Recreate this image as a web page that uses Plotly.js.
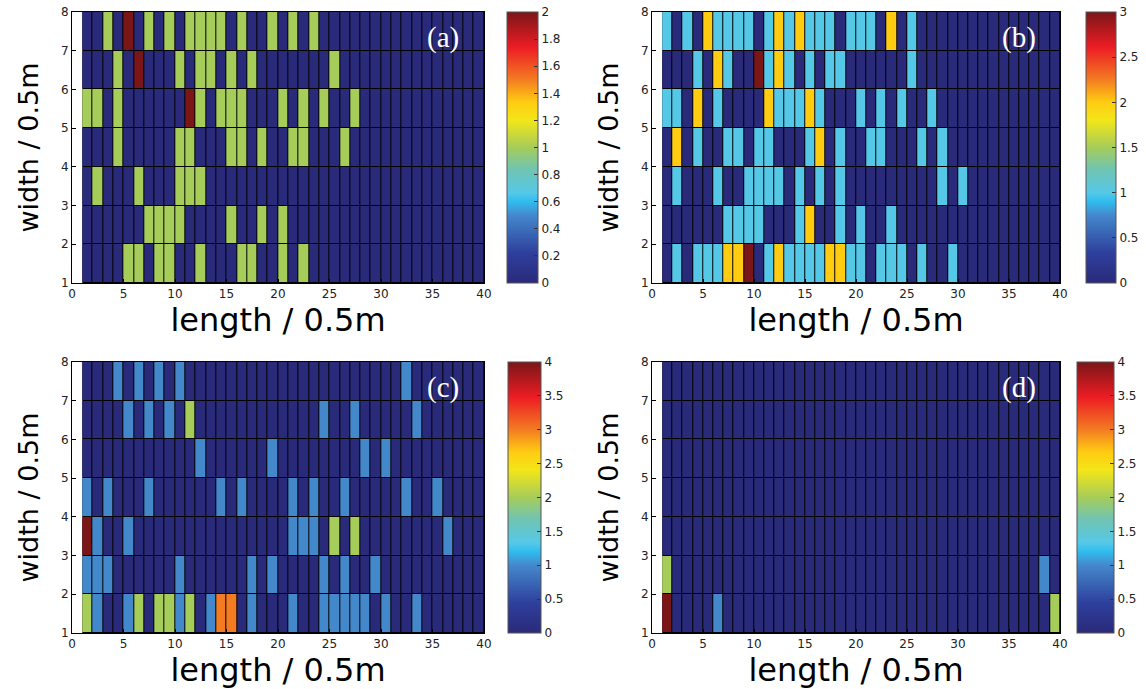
<!DOCTYPE html>
<html>
<head>
<meta charset="utf-8">
<script src="https://cdn.plot.ly/plotly-3.0.1.min.js"></script>
<style>
  html, body { margin: 0; padding: 0; background: #ffffff; }
  #chart { width: 1146px; height: 689px; }
</style>
</head>
<body>
<div id="chart"></div>
<script>
// Cell edges (pcolor grid): length 1..40, width 1..8
const lengthEdges = [1,2,3,4,5,6,7,8,9,10,11,12,13,14,15,16,17,18,19,20,21,22,23,24,25,26,27,28,29,30,31,32,33,34,35,36,37,38,39,40];
const widthEdges = [1,2,3,4,5,6,7,8];

// Panel (a): rows from width 1 (bottom) to width 7 (top), 39 cells each
const panelA = [
  [0,0,0,0,1,1,0,1,1,0, 0,1,0,0,0,1,1,0,0,1, 0,1,0,0,0,0,0,0,0,0, 0,0,0,0,0,0,0,0,0],
  [0,0,0,0,0,0,1,1,1,1, 0,0,0,0,1,0,0,1,0,1, 0,0,0,0,0,0,0,0,0,0, 0,0,0,0,0,0,0,0,0],
  [0,1,0,0,0,1,0,0,0,1, 1,1,0,0,0,0,0,0,0,0, 0,0,0,0,0,0,0,0,0,0, 0,0,0,0,0,0,0,0,0],
  [0,0,0,1,0,0,0,0,0,1, 1,0,0,0,1,1,0,1,0,0, 1,1,0,0,0,1,0,0,0,0, 0,0,0,0,0,0,0,0,0],
  [1,1,0,1,0,0,0,0,0,0, 2,1,0,1,1,1,0,0,0,1, 0,1,0,1,0,0,1,0,0,0, 0,0,0,0,0,0,0,0,0],
  [0,0,0,1,0,2,0,0,0,1, 0,1,1,0,1,0,1,0,0,0, 0,0,0,0,1,0,0,0,0,0, 0,0,0,0,0,0,0,0,0],
  [0,0,1,0,2,0,1,0,1,0, 1,1,1,1,0,1,0,0,1,0, 1,0,1,0,0,0,0,0,0,0, 0,0,0,0,0,0,0,0,0]
];

// Panel (b)
const panelB = [
  [0,1,0,1,1,1,2,2,3,0, 1,2,1,1,1,1,2,2,1,1, 0,1,1,1,0,1,0,0,1,0, 0,0,0,0,0,0,0,0,0],
  [0,0,0,0,0,0,1,1,1,1, 0,0,0,1,2,0,0,1,0,1, 0,0,1,0,0,0,0,0,0,0, 0,0,0,0,0,0,0,0,0],
  [0,1,0,0,0,1,0,0,1,1, 1,1,0,1,0,1,0,1,0,0, 0,0,0,0,0,0,0,1,0,1, 0,0,0,0,0,0,0,0,0],
  [0,2,0,1,0,0,1,1,0,1, 1,0,0,0,1,2,0,1,0,0, 1,1,0,0,0,1,0,1,0,0, 0,0,0,0,0,0,0,0,0],
  [1,1,0,2,0,1,0,0,0,0, 2,1,1,1,2,1,0,0,0,1, 0,1,0,1,0,0,1,0,0,0, 0,0,0,0,0,0,0,0,0],
  [0,0,0,1,0,2,1,0,0,3, 1,2,1,0,1,0,1,1,0,0, 0,0,0,0,1,0,0,0,0,0, 0,0,0,0,0,0,0,0,0],
  [1,0,1,0,2,1,1,1,1,0, 1,2,1,2,1,1,1,0,1,1, 1,0,2,0,1,0,0,0,0,0, 0,0,0,0,0,0,0,0,0]
];

// Panel (c)
const panelC = [
  [2,1,0,0,1,2,0,2,2,1, 2,0,1,3,3,0,1,0,0,0, 1,0,0,1,1,1,1,1,0,1, 0,0,1,0,0,0,0,0,0],
  [1,1,1,0,0,0,0,0,0,1, 0,0,0,0,0,0,1,0,1,0, 0,0,0,1,0,1,0,0,1,0, 0,0,0,0,0,0,0,0,0],
  [4,1,0,0,1,0,0,0,0,0, 0,0,0,0,0,0,0,0,0,0, 1,1,1,0,2,0,2,0,0,0, 0,0,0,0,0,1,0,0,0],
  [1,0,1,0,0,0,1,0,0,0, 0,0,0,1,0,1,0,0,0,0, 1,0,1,0,0,1,0,0,0,0, 0,1,0,0,1,0,0,0,0],
  [0,0,0,0,0,0,0,0,0,0, 0,1,0,0,0,0,0,0,1,0, 0,0,0,0,0,0,0,1,0,1, 0,0,0,0,0,0,0,0,0],
  [0,0,0,0,1,0,1,0,1,0, 2,0,0,0,0,0,0,0,0,0, 0,0,0,1,0,0,1,0,0,0, 0,0,1,0,0,0,0,0,0],
  [0,0,0,1,0,1,0,1,0,1, 0,0,0,0,0,0,0,0,0,0, 0,0,0,0,0,0,0,0,0,0, 0,1,0,0,0,0,0,0,0]
];

// Panel (d)
const panelD = [
  [4,0,0,0,0,1,0,0,0,0, 0,0,0,0,0,0,0,0,0,0, 0,0,0,0,0,0,0,0,0,0, 0,0,0,0,0,0,0,0,2],
  [2,0,0,0,0,0,0,0,0,0, 0,0,0,0,0,0,0,0,0,0, 0,0,0,0,0,0,0,0,0,0, 0,0,0,0,0,0,0,1,0],
  [0,0,0,0,0,0,0,0,0,0, 0,0,0,0,0,0,0,0,0,0, 0,0,0,0,0,0,0,0,0,0, 0,0,0,0,0,0,0,0,0],
  [0,0,0,0,0,0,0,0,0,0, 0,0,0,0,0,0,0,0,0,0, 0,0,0,0,0,0,0,0,0,0, 0,0,0,0,0,0,0,0,0],
  [0,0,0,0,0,0,0,0,0,0, 0,0,0,0,0,0,0,0,0,0, 0,0,0,0,0,0,0,0,0,0, 0,0,0,0,0,0,0,0,0],
  [0,0,0,0,0,0,0,0,0,0, 0,0,0,0,0,0,0,0,0,0, 0,0,0,0,0,0,0,0,0,0, 0,0,0,0,0,0,0,0,0],
  [0,0,0,0,0,0,0,0,0,0, 0,0,0,0,0,0,0,0,0,0, 0,0,0,0,0,0,0,0,0,0, 0,0,0,0,0,0,0,0,0]
];

const panelLabels = ['(a)', '(b)', '(c)', '(d)'];
const colorMax = [2, 3, 4, 4];
const colorStep = [0.2, 0.5, 0.5, 0.5];
const xTickVals = [0, 5, 10, 15, 20, 25, 30, 35, 40];
const yTickVals = [1, 2, 3, 4, 5, 6, 7, 8];
const xTitle = 'length / 0.5m';
const yTitle = 'width / 0.5m';

const jetLike = [
  [0.000, '#2a2a7a'],
  [0.110, '#2e3f9c'],
  [0.250, '#4488cc'],
  [0.300, '#30bcee'],
  [0.3333, '#55c8e8'],
  [0.420, '#70c4b2'],
  [0.500, '#a6cc5a'],
  [0.600, '#f2e619'],
  [0.6667, '#ffcc12'],
  [0.750, '#f37c22'],
  [0.870, '#ec1c24'],
  [1.000, '#7a1618']
];

const W = 1146, H = 689;
const px = v => v / W;
const py = v => 1 - v / H;

// Panel geometry (pixels)
const boxes = [
  {x0: 72,  x1: 484,  y0: 12,  y1: 283, cbx: 507,  cbw: 31},
  {x0: 652, x1: 1060, y0: 12,  y1: 283, cbx: 1086, cbw: 30},
  {x0: 72,  x1: 484,  y0: 362, y1: 633, cbx: 508,  cbw: 33},
  {x0: 652, x1: 1060, y0: 362, y1: 633, cbx: 1077, cbw: 37}
];
const panels = [panelA, panelB, panelC, panelD];

const tickFont = {family: 'DejaVu Sans, Liberation Sans, sans-serif', size: 12, color: '#222'};
const xTitleFont = {family: 'DejaVu Sans, Liberation Sans, sans-serif', size: 32, color: '#000'};
const yTitleFont = {family: 'DejaVu Sans, Liberation Sans, sans-serif', size: 27, color: '#000'};

const traces = [];
const layout = {
  width: W, height: H,
  margin: {l: 0, r: 0, t: 0, b: 0},
  paper_bgcolor: '#ffffff',
  plot_bgcolor: '#ffffff',
  showlegend: false,
  shapes: [],
  annotations: []
};

panels.forEach((z, i) => {
  const b = boxes[i];
  const n = i === 0 ? '' : String(i + 1);
  const xa = 'x' + n, ya = 'y' + n;
  traces.push({
    type: 'heatmap',
    x: lengthEdges,
    y: widthEdges,
    z: z,
    xaxis: xa, yaxis: ya,
    zmin: 0, zmax: colorMax[i],
    colorscale: jetLike,
    xgap: 1, ygap: 1,
    hoverinfo: 'x+y+z',
    colorbar: {
      x: px(b.cbx), xanchor: 'left', xpad: 0,
      y: py((b.y0 + b.y1) / 2), yanchor: 'middle', ypad: 0,
      len: (b.y1 - b.y0) / H, lenmode: 'fraction',
      thickness: b.cbw, thicknessmode: 'pixels',
      outlinecolor: '#555', outlinewidth: 1,
      tickmode: 'linear', tick0: 0, dtick: colorStep[i],
      ticks: 'inside', ticklen: 4, tickcolor: '#333',
      tickfont: tickFont
    }
  });
  layout['xaxis' + n] = {
    domain: [px(b.x0), px(b.x1)],
    anchor: ya,
    range: [0, 40],
    tickmode: 'array', tickvals: xTickVals,
    ticks: 'inside', ticklen: 4, tickcolor: '#000',
    showline: true, linecolor: '#000', linewidth: 1, mirror: true,
    showgrid: false, zeroline: false,
    tickfont: tickFont,
    title: {text: xTitle, font: xTitleFont, standoff: 6}
  };
  layout['yaxis' + n] = {
    domain: [py(b.y1), py(b.y0)],
    anchor: xa,
    range: [1, 8],
    tickmode: 'array', tickvals: yTickVals,
    ticks: 'inside', ticklen: 4, tickcolor: '#000',
    showline: true, linecolor: '#000', linewidth: 1, mirror: true,
    showgrid: false, zeroline: false,
    tickfont: tickFont,
    title: {text: yTitle, font: yTitleFont, standoff: 14}
  };
  // black backing behind the cells so the gaps read as cell borders
  layout.shapes.push({
    type: 'rect', xref: xa, yref: ya,
    x0: lengthEdges[0], x1: lengthEdges[lengthEdges.length - 1],
    y0: widthEdges[0], y1: widthEdges[widthEdges.length - 1],
    fillcolor: '#000', line: {width: 0}, layer: 'below'
  });
  layout.annotations.push({
    xref: 'paper', yref: 'paper',
    x: px(b.x1 - 41), y: py(b.y0 + 25),
    xanchor: 'center', yanchor: 'middle',
    text: panelLabels[i], showarrow: false,
    font: {family: 'Liberation Serif, Times New Roman, serif', size: 29, color: '#ffffff'}
  });
});

Plotly.newPlot('chart', traces, layout, {displayModeBar: false, staticPlot: true});
</script>
</body>
</html>
